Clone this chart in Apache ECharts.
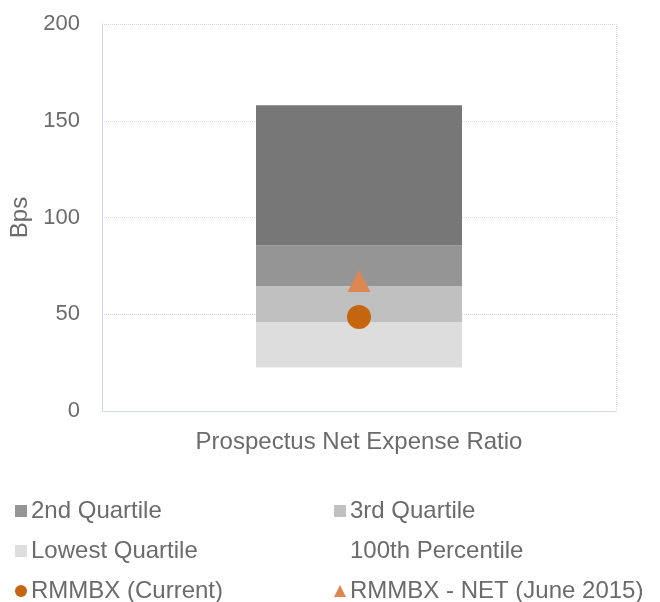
<!DOCTYPE html>
<html>
<head>
<meta charset="utf-8">
<script src="https://cdn.jsdelivr.net/npm/echarts@6/dist/echarts.min.js"></script>
<style>html,body{margin:0;padding:0;background:#fff}#c{width:660px;height:602px}</style>
</head>
<body>
<div id="c"></div>
<script>
var categories = ['Prospectus Net Expense Ratio'];
var yTicks = [0, 50, 100, 150, 200];
// stacked segments (Bps)
var base100th = [22.5];
var lowestQuartile = [23.5];
var thirdQuartile = [18.5];
var secondQuartile = [21];
var topQuartile = [72.5];
var rmmbxCurrent = [48.6];
var rmmbxNet = [67.2];

var txt = '#6b6b6b';
var font = 'Liberation Sans, Arial, sans-serif';
function lg(name, left, top, icon) {
  return {
    data: [{name: name, icon: icon}],
    left: left, top: top, padding: 0,
    itemWidth: 12, itemHeight: 12, itemGap: 0,
    textStyle: {color: txt, fontSize: 24, fontFamily: font, padding: [0, 0, 0, -1]},
    selectedMode: false
  };
}
var chart = echarts.init(document.getElementById('c'));
chart.setOption({
  animation: false,
  textStyle: {fontFamily: font},
  grid: {left: 102, right: 44, top: 24, bottom: 191, outerBoundsMode: 'none', containLabel: false},
  xAxis: {
    type: 'category', data: categories,
    axisLine: {show: true, lineStyle: {color: '#d0d8e4', width: 1}},
    axisTick: {show: false},
    axisLabel: {color: txt, fontSize: 24, margin: 19},
    splitLine: {show: true, lineStyle: {color: '#d9d9d9', type: 'dotted'}}
  },
  yAxis: {
    type: 'value', min: yTicks[0], max: yTicks[yTicks.length - 1], interval: 50,
    name: 'Bps', nameLocation: 'middle', nameGap: 66,
    nameTextStyle: {color: txt, fontSize: 24},
    axisLine: {show: true, lineStyle: {color: '#d0d8e4', width: 1}},
    axisTick: {show: false},
    axisLabel: {color: txt, fontSize: 22, margin: 22},
    splitLine: {show: true, lineStyle: {color: '#d9d9d9', type: 'dotted'}}
  },
  legend: [
    lg('2nd Quartile', 15, 499, 'rect'),
    lg('3rd Quartile', 334, 499, 'rect'),
    lg('Lowest Quartile', 15, 539, 'rect'),
    lg('100th Percentile', 334, 539, 'rect'),
    lg('RMMBX (Current)', 15, 579, 'circle'),
    lg('RMMBX - NET (June 2015)', 334, 579, 'triangle')
  ],
  series: [
    {name: '100th Percentile', type: 'bar', stack: 's', data: base100th, barWidth: 206,
     itemStyle: {color: 'rgba(0,0,0,0)'}},
    {name: 'Lowest Quartile', type: 'bar', stack: 's', data: lowestQuartile, itemStyle: {color: '#dddddd'}},
    {name: '3rd Quartile', type: 'bar', stack: 's', data: thirdQuartile, itemStyle: {color: '#c0c0c0'}},
    {name: '2nd Quartile', type: 'bar', stack: 's', data: secondQuartile, itemStyle: {color: '#959595'}},
    {name: 'Top Quartile', type: 'bar', stack: 's', data: topQuartile, itemStyle: {color: '#777777'}},
    {name: 'RMMBX (Current)', type: 'scatter', data: rmmbxCurrent, symbol: 'circle', symbolSize: 24,
     itemStyle: {color: '#c6650f', opacity: 1}, z: 5},
    {name: 'RMMBX - NET (June 2015)', type: 'scatter', data: rmmbxNet, symbol: 'triangle', symbolSize: [23, 22],
     itemStyle: {color: '#dc8652', opacity: 1}, z: 5}
  ]
});
</script>
</body>
</html>
